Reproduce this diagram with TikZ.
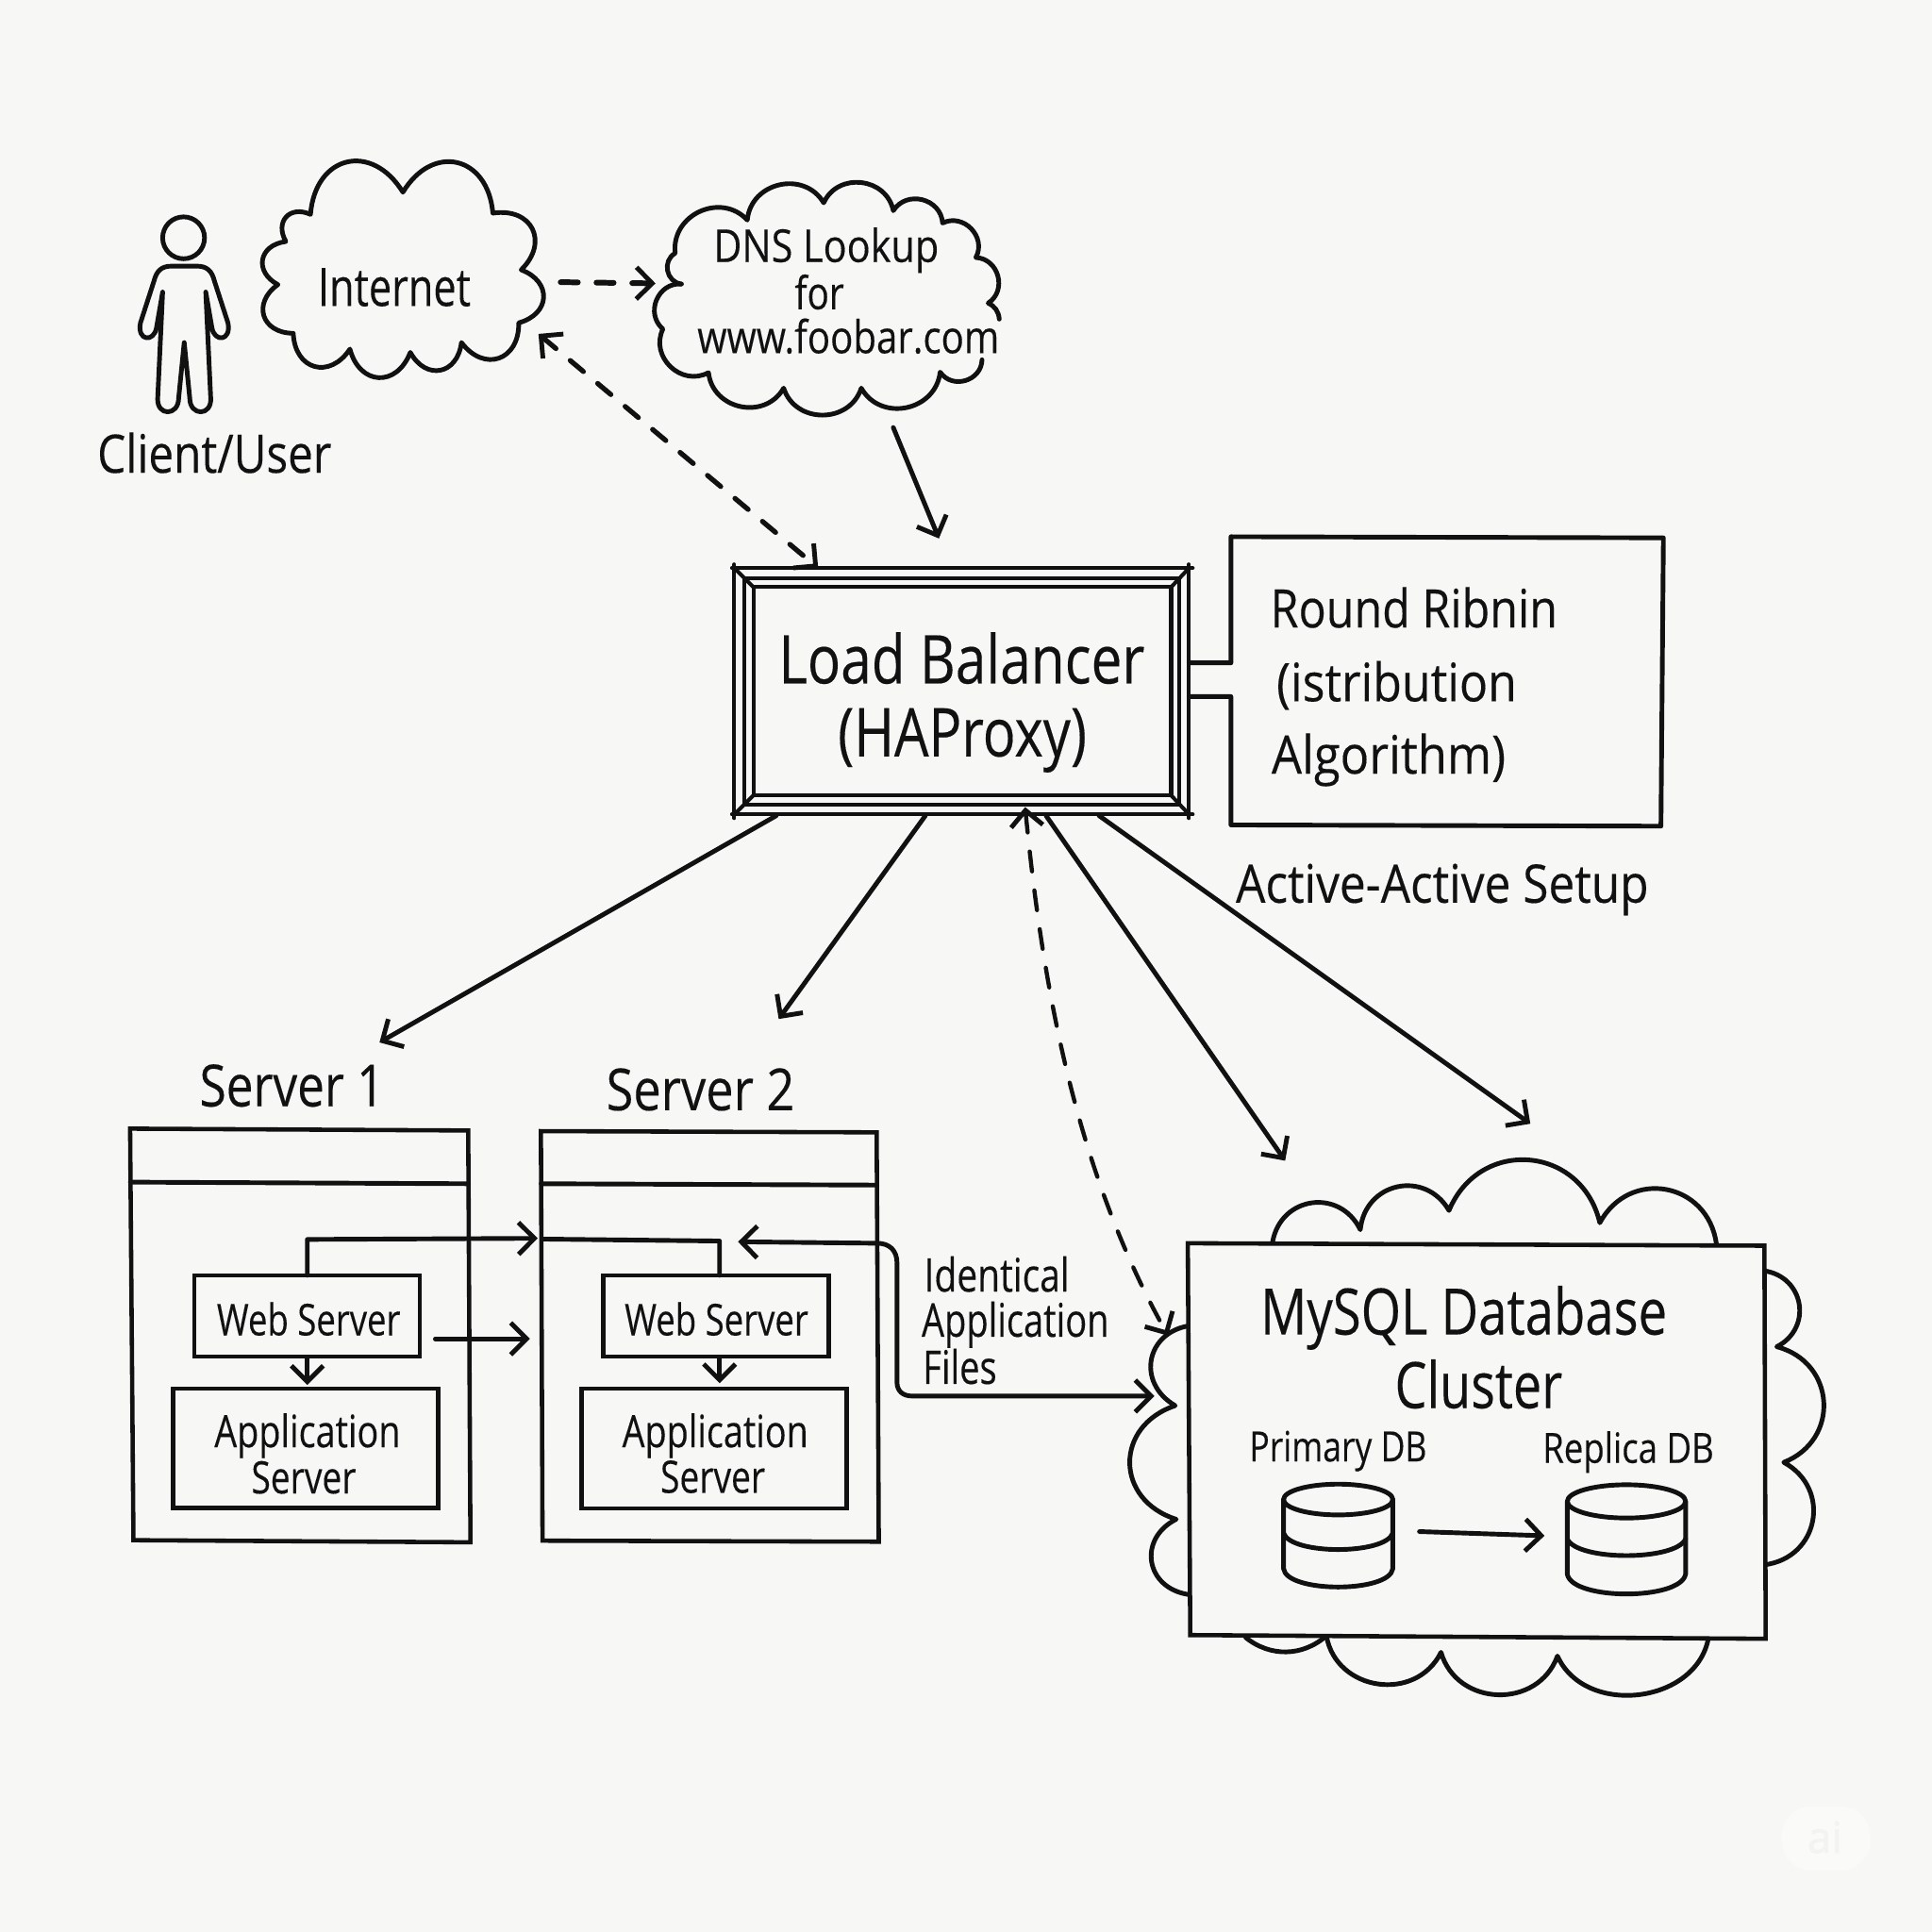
\documentclass[tikz,border=0pt]{standalone}
\usepackage{fontspec}
\usepackage{graphicx}
\setmainfont[FakeBold=0.25]{Open Sans}
\newfontfamily\wmfont[FakeBold=1.5]{Open Sans}
\usetikzlibrary{arrows.meta}
\definecolor{bgc}{HTML}{F7F7F5}
\definecolor{ink}{HTML}{111111}
\definecolor{wmpill}{HTML}{FAFAF8}
\definecolor{wmtxt}{HTML}{F3F3F1}
\newlength\tu
\setlength\tu{0.37165pt}
\newcommand\fw[2]{\resizebox{#1\tu}{\height}{#2}}
\tikzset{
  ln/.style={draw=ink,line width=1.4pt,line cap=round,line join=round},
  thin ln/.style={draw=ink,line width=1.15pt,line cap=round,line join=round},
  box/.style={draw=ink,line width=1.25pt,inner sep=0pt,outer sep=0pt,fill=bgc,rectangle},
  lbbox/.style={draw=ink,line width=1.15pt,inner sep=0pt,outer sep=0pt,fill=bgc,rectangle},
  outline/.style={draw=ink,line width=1.3pt,line join=miter,fill=bgc},
  txt/.style={text=ink,inner sep=0pt,outer sep=0pt,anchor=base,align=center,yshift=-0.5pt},
  bump/.style={bend left=72,looseness=1.25},
  bump i/.style={bend left=72,looseness=1.6},
  bump r/.style={bend left=72,looseness=1.35},
  bump l/.style={bend left=72,looseness=1.45},
  bump b/.style={bend left=72,looseness=1.12},
  head/.style={-{Straight Barb[length=4.8pt,width=9.6pt,line width=1.4pt]}},
  twohead/.style={{Straight Barb[length=4.8pt,width=9.6pt,line width=1.4pt]}-{Straight Barb[length=4.8pt,width=9.6pt,line width=1.4pt]}},
  dash a/.style={dash pattern=on 5.2pt off 5.6pt},
  dash b/.style={dash pattern=on 6pt off 5.8pt},
}
\newcommand\fs[1]{\fontsize{#1pt}{#1pt}\selectfont}
\begin{document}
\begin{tikzpicture}[x=0.37165pt,y=-0.37165pt]
\useasboundingbox (0,0) rectangle (1568,1568);
\fill[bgc] (0,0) rectangle (1568,1568);

% watermark
\node[fill=wmpill,rounded corners=9pt,minimum width=72\tu,minimum height=52\tu,inner sep=0pt] (wm) at (1482,1492) {};
\node[text=wmtxt,inner sep=0pt] (wmtext) at (1481,1491) {\wmfont\fs{13}ai};

% person
\node[draw=ink,line width=1.4pt,circle,minimum size=34\tu,inner sep=0pt] (head) at (149,193) {};
\draw[ln] (149,216) -- (139,216) .. controls (131,216) and (127,220) .. (125,228)
  -- (114,262) .. controls (111,277) and (125,278) .. (127,266) -- (132,237)
  -- (128,323) .. controls (127,338) and (145,338) .. (145,323) -- (149.5,278)
  -- (154,323) .. controls (154,338) and (172,338) .. (171,323) -- (167,237)
  -- (172,266) .. controls (174,278) and (188,277) .. (185,262)
  -- (174,228) .. controls (172,220) and (168,216) .. (160,216) -- cycle;
\node[txt] (client) at (174,382.3) {\fs{16}\fw{190}{Client/User}};

% internet cloud
\draw[ln] (225.5,231) to[bump i] (232,196) to[bump i] (252,174) to[bump i] (327,156)
  to[bump i] (400,173) to[bump i] (423,219) to[bump i] (421,262) to[bump i] (374.5,278)
  to[bump i] (333,286) to[bump i] (284,283.3) to[bump i] (238,270.5) to[bump i] (225.5,231);
\node[txt] (internet) at (320,247) {\fs{16}\fw{124}{Internet}};

% dns cloud
\draw[ln] (553,230.5) to[bump] (548,205.5) to[bump] (606.5,178.6) to[bump] (668.5,164.6)
  to[bump] (725,171) to[bump] (765,181) to[bump] (792,209) to[bump] (802,246)
  to[bend left=30] (811,259);
\draw[ln] (797,292) to[bump] (763,302) to[bump] (699,315) to[bump] (636,315)
  to[bump] (575,302.4) to[bump] (538,267) to[bump] (553,230.5);
\node[txt] (dns1) at (670.5,211.3) {\fs{13.7}\fw{183}{DNS Lookup}};
\node[txt] (dns2) at (665,249.6) {\fs{13.7}\fw{40}{for}};
\node[txt] (dns3) at (688.5,285.3) {\fs{13.7}\fw{245}{www.foobar.com}};

% load balancer
\node[lbbox,minimum width=369\tu,minimum height=200\tu] (lbouter) at (780.5,561) {};
\node[lbbox,minimum width=353\tu,minimum height=184\tu] (lbmid) at (780.5,561) {};
\node[lbbox,minimum width=339\tu,minimum height=169\tu] (lbinner) at (781,561) {};
\draw[thin ln] (lbouter.north west) -- (lbinner.north west);
\draw[thin ln] (lbouter.north east) -- (lbinner.north east);
\draw[thin ln] (lbouter.south west) -- (lbinner.south west);
\draw[thin ln] (lbouter.south east) -- (lbinner.south east);
\coordinate (o1) at (594,461); \coordinate (o2) at (968,461);
\coordinate (o3) at (594,661); \coordinate (o4) at (968,661);
\draw[thin ln] (o1) -- (o2) (o3) -- (o4);
\coordinate (o5) at (596,458); \coordinate (o6) at (596,664);
\coordinate (o7) at (965,458); \coordinate (o8) at (965,664);
\draw[thin ln] (o5) -- (o6) (o7) -- (o8);
\node[txt] (lb1) at (780.5,553.3) {\fs{20.3}\fw{297}{Load Balancer}};
\node[txt] (lb2) at (781,612.5) {\fs{20.3}\fw{202}{(HAProxy)}};

% round robin box
\coordinate (rr1) at (965,538); \coordinate (rr2) at (999,538);
\coordinate (rr3) at (999,435.6); \coordinate (rr4) at (1350,436.5);
\coordinate (rr5) at (1348,670.5); \coordinate (rr6) at (999,669.5);
\coordinate (rr7) at (999,565.3); \coordinate (rr8) at (965,565.3);
\draw[ln] (rr1) -- (rr2) -- (rr3) -- (rr4) -- (rr5) -- (rr6) -- (rr7) -- (rr8);
\node[txt] (rb1) at (1147.5,507.9) {\fs{16}\fw{233}{Round Ribnin}};
\node[txt] (rb2) at (1133.5,567.8) {\fs{16}\fw{195}{(istribution}};
\node[txt] (rb3) at (1127,626.5) {\fs{16}\fw{190}{Algorithm)}};
\node[txt] (active) at (1170.5,731.2) {\fs{16}\fw{335}{Active-Active Setup}};

% servers
\path[outline] (105.6,916) -- (380,917.5) -- (381.8,1251.7) -- (108.3,1250) -- cycle;
\path[outline] (439,918) -- (711.5,919) -- (713.2,1251.2) -- (440.3,1250.4) -- cycle;
\coordinate (s1a) at (105.8,959.4); \coordinate (s1b) at (380.3,960.7);
\coordinate (s2a) at (439.2,960.7); \coordinate (s2b) at (711.7,961.8);
\draw[ln] (s1a) -- (s1b);
\draw[ln] (s2a) -- (s2b);
\node[txt] (s1t) at (237,896.5) {\fs{17.5}\fw{150}{Server 1}};
\node[txt] (s2t) at (568.5,899.7) {\fs{17.5}\fw{153}{Server 2}};

\node[box,minimum width=183\tu,minimum height=66\tu] (web1) at (249,1068) {};
\node[box,minimum width=183\tu,minimum height=66\tu] (web2) at (581,1068) {};
\node[box,minimum width=215\tu,minimum height=97\tu] (app1) at (248,1175.3) {};
\node[box,minimum width=215\tu,minimum height=97\tu] (app2) at (579.5,1175.5) {};
\node[txt] (w1t) at (250.5,1082.4) {\fs{13.2}\fw{149}{Web Server}};
\node[txt] (w2t) at (581.5,1082.4) {\fs{13.2}\fw{149}{Web Server}};
\node[txt] (a1t) at (249.5,1173.2) {\fs{13.5}\fw{151}{Application}};
\node[txt] (a1u) at (246.5,1210.7) {\fs{13.5}\fw{85}{Server}};
\node[txt] (a2t) at (580.5,1173.2) {\fs{13.5}\fw{151}{Application}};
\node[txt] (a2u) at (578.5,1210.2) {\fs{13.5}\fw{85}{Server}};

\coordinate (w1up) at (249.4,1035); \coordinate (w1corner) at (249.4,1005.9);
\coordinate (s2in) at (436.4,1005);
\coordinate (w2start) at (440,1005.6); \coordinate (w2corner) at (584,1007.2);
\coordinate (w2up) at (584,1035);
\draw[ln,head] (w1up) -- (w1corner) -- (s2in);
\draw[ln] (w2start) -- (w2corner) -- (w2up);
\coordinate (w1a) at (249.4,1101.3); \coordinate (a1a) at (249.4,1124);
\coordinate (w2a) at (584,1101.3); \coordinate (a2a) at (584,1122.6);
\draw[ln,head] (w1a) -- (a1a);
\draw[ln,head] (w2a) -- (a2a);
\coordinate (xa) at (353.3,1086.5); \coordinate (xb) at (430,1086.5);
\draw[ln,head] (xa) -- (xb);

% identical files connector
\coordinate (if1) at (599,1007.8); \coordinate (if2) at (712,1009);
\coordinate (if3) at (728,1025); \coordinate (if4) at (728,1122);
\coordinate (if5) at (740,1133); \coordinate (if6) at (936.9,1133);
\draw[ln,twohead] (if1) -- (if2) .. controls (722,1009) and (728,1015) .. (if3) -- (if4) .. controls (728,1129) and (733,1133) .. (if5) -- (if6);
\node[txt] (id1) at (809,1046.9) {\fs{14}\fw{118}{Identical}};
\node[txt] (id2) at (824,1083.5) {\fs{14}\fw{152}{Application}};
\node[txt] (id3) at (779,1121.8) {\fs{14}\fw{60}{Files}};

% database cloud
\draw[ln] (1032.8,1008) to[bump r] (1104,998) to[bump r] (1176,982.4) to[bump r] (1298.4,992.4) to[bump r] (1393,1009.6);
\draw[ln] (1432,1031.4) to[bump r] (1442,1093) to[bump r] (1447.7,1186.8) to[bump r] (1432,1270);
\draw[ln] (1386.3,1330.6) to[bump b] (1264,1344) to[bump] (1169.5,1341) to[bump] (1076.5,1327.6);
\draw[ln] (1076.5,1327.6) to[bend left=40] (1011,1329);
\draw[ln] (964,1294) to[bump l] (954.6,1233) to[bump l] (953.8,1140.8) to[bump l] (968,1075.6);
\path[outline] (964,1009) -- (1432,1011) -- (1433,1330) -- (966,1327) -- cycle;
\node[txt] (db1) at (1188,1081.7) {\fs{19.3}\fw{330}{MySQL Database}};
\node[txt] (db2) at (1200,1141.4) {\fs{19.3}\fw{136}{Cluster}};
\node[txt] (p1) at (1086,1184.7) {\fs{12.6}\fw{144}{Primary DB}};
\node[txt] (p2) at (1321.5,1185.9) {\fs{12.6}\fw{139}{Replica DB}};

% cylinders
\draw[ln] (1041.7,1217) arc[start angle=180,end angle=-180,x radius=44.35,y radius=12.5];
\draw[ln] (1041.7,1217) -- (1041.7,1273) .. controls (1044,1293) and (1128,1293) .. (1130.4,1273) -- (1130.4,1217);
\draw[ln] (1041.7,1244.3) .. controls (1048,1262) and (1124,1262) .. (1130.4,1244.3);
\draw[ln] (1272,1218.5) arc[start angle=180,end angle=-180,x radius=48,y radius=13.5];
\draw[ln] (1272,1218.5) -- (1272,1277.6) .. controls (1276,1299) and (1364,1299) .. (1368,1277.6) -- (1368,1218.5);
\draw[ln] (1272,1249) .. controls (1280,1267) and (1360,1267) .. (1368,1249);
\coordinate (ra) at (1152,1243); \coordinate (rb) at (1253.5,1246.4);
\draw[ln,head] (ra) -- (rb);

% connectors
\coordinate (c1a) at (455,229); \coordinate (c1b) at (532,230);
\draw[ln,head,dash a,line width=1.7pt] (c1a) -- (c1b);
\coordinate (c2a) at (437,271); \coordinate (c2b) at (664,461);
\draw[ln,twohead,dash a,line width=1.5pt] (c2a) -- (c2b);
\coordinate (c3a) at (725,347); \coordinate (c3b) at (762,437);
\draw[ln,head] (c3a) -- (c3b);
\coordinate (c4a) at (630,662); \coordinate (c4b) at (308,846);
\draw[ln,head] (c4a) -- (c4b);
\coordinate (c5a) at (751,662); \coordinate (c5b) at (632,827);
\draw[ln,head] (c5a) -- (c5b);
\coordinate (c6a) at (849,662); \coordinate (c6b) at (1043,942);
\draw[ln,head] (c6a) -- (c6b);
\coordinate (c7a) at (892,662); \coordinate (c7b) at (1242,912);
\draw[ln,head] (c7a) -- (c7b);
\coordinate (c8a) at (832,655); \coordinate (c8b) at (948,1084);
\draw[thin ln,line width=1.25pt,twohead,dash b] (c8a) .. controls (846,800) and (873,950) .. (c8b);
\end{tikzpicture}
\end{document}
